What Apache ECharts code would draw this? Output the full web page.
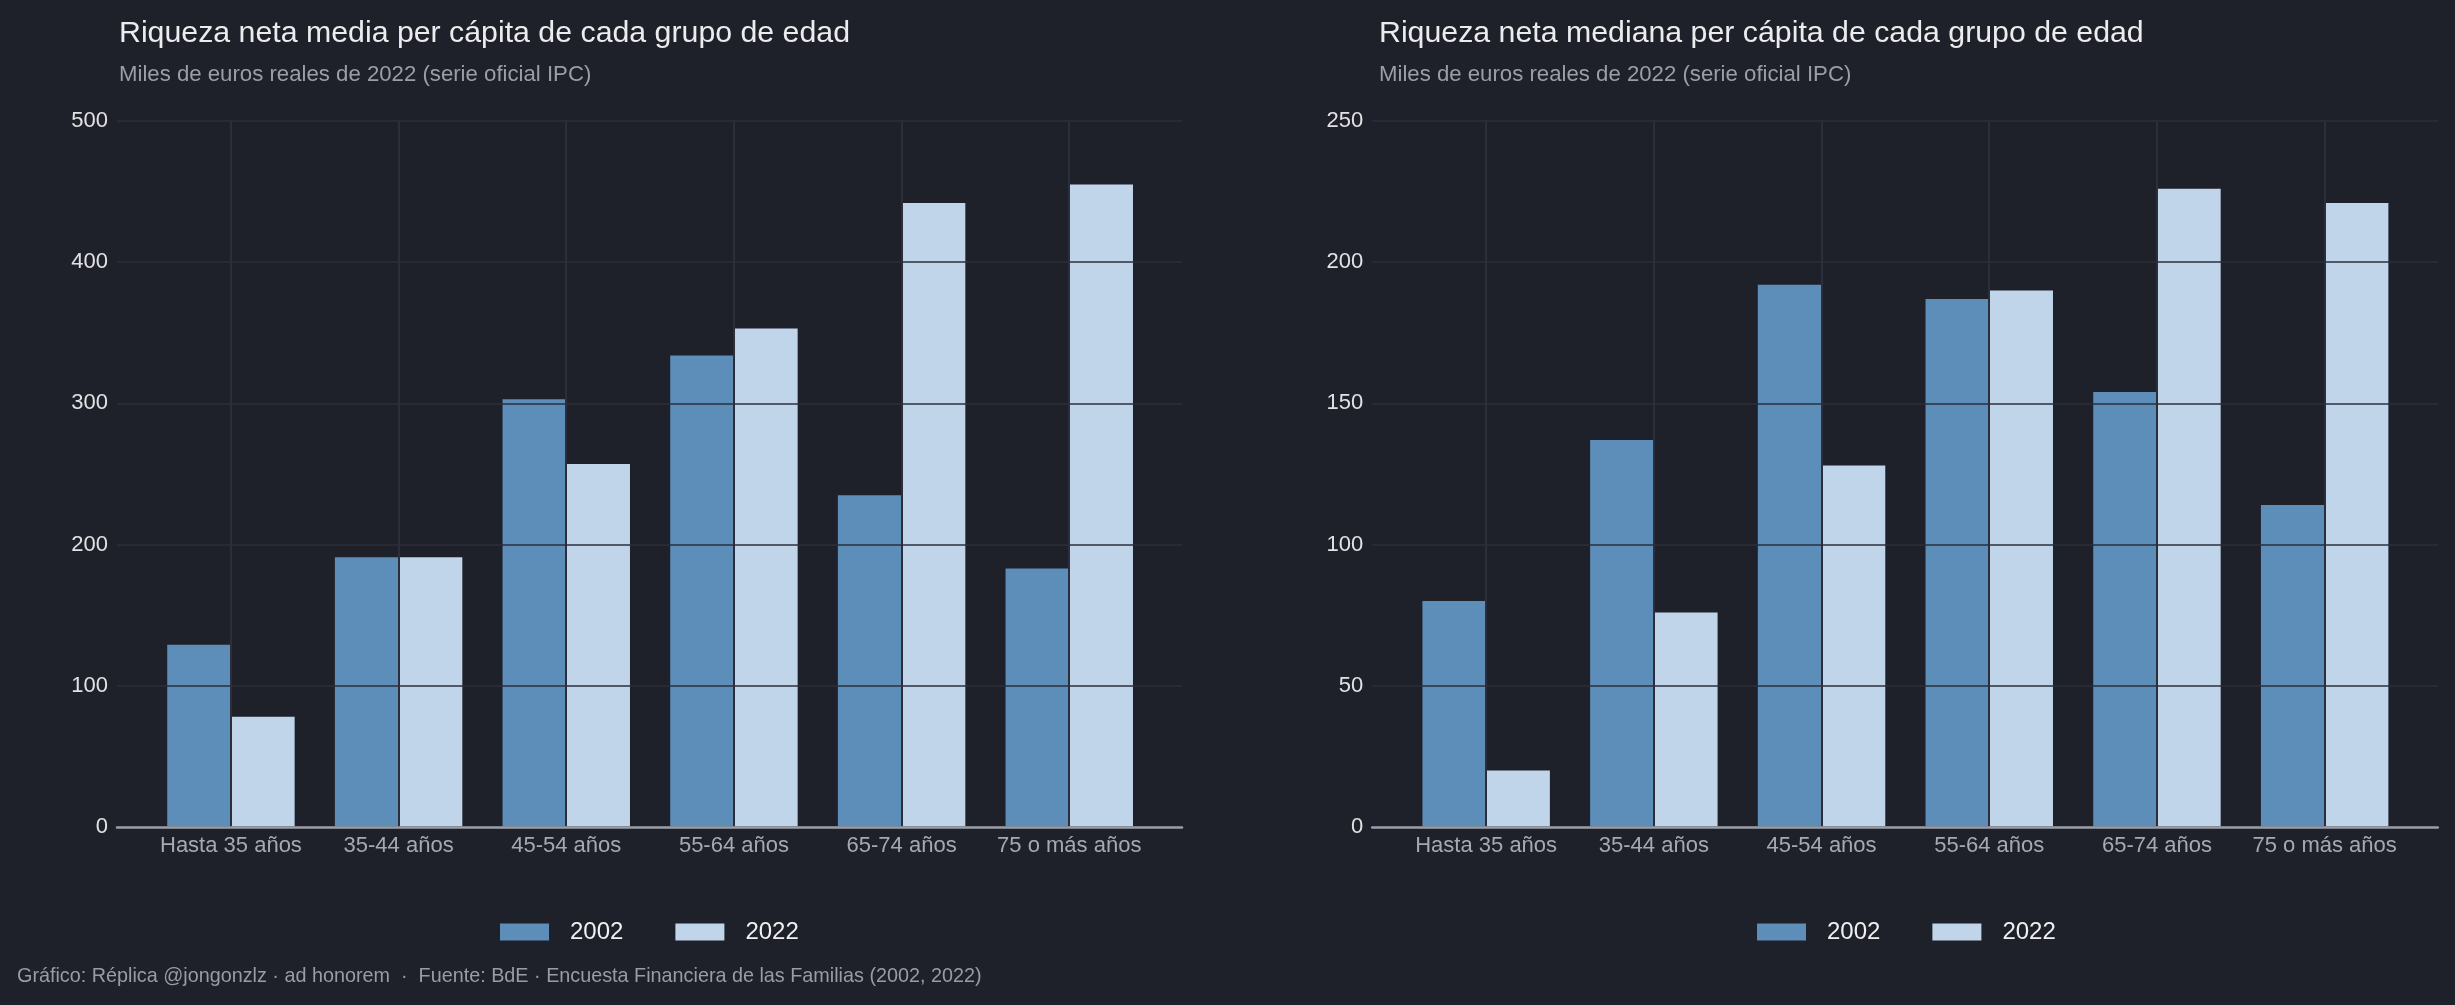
<!DOCTYPE html>
<html>
<head>
<meta charset="utf-8">
<script src="https://cdn.jsdelivr.net/npm/echarts@6/dist/echarts.min.js"></script>
<style>
html,body{margin:0;padding:0;background:#1f212a;}
#chart{width:2455px;height:1005px;}
</style>
</head>
<body>
<div id="chart"></div>
<script>
var categories = ['Hasta 35 años', '35-44 años', '45-54 años', '55-64 años', '65-74 años', '75 o más años'];
var seriesNames = ['2002', '2022'];
var media2002 = [129, 191, 303, 334, 235, 183];
var media2022 = [78, 191, 257, 353, 442, 455];
var mediana2002 = [80, 137, 192, 187, 154, 114];
var mediana2022 = [20, 76, 128, 190, 226, 221];
var mediaTicks = {min: 0, max: 500, interval: 100};
var medianaTicks = {min: 0, max: 250, interval: 50};
var titles = ['Riqueza neta media per cápita de cada grupo de edad', 'Riqueza neta mediana per cápita de cada grupo de edad'];
var subtitle = 'Miles de euros reales de 2022 (serie oficial IPC)';
var footer = 'Gráfico: Réplica @jongonzlz · ad honorem  ·  Fuente: BdE · Encuesta Financiera de las Familias (2002, 2022)';

var FONT = '"Liberation Sans", Arial, Helvetica, sans-serif';
var BG = '#1f212a';
var GRIDLINE = '#2c2e3b';
var C2002 = '#5d8eba';
var C2022 = '#c0d5ea';

var chart = echarts.init(document.getElementById('chart'), null, {renderer: 'canvas'});

var TOP = 121, H = 706;
var panels = [
  {a: [117, 1065], b: [147.1, 1006], c: [230.9, 838.3], ticks: mediaTicks, d1: media2002, d2: media2022},
  {a: [1372.2, 1065.6], b: [1402.3, 1006.2], c: [1486.1, 838.5], ticks: medianaTicks, d1: mediana2002, d2: mediana2022}
];

var grid = [], xAxis = [], yAxis = [], series = [];
panels.forEach(function (p, k) {
  var base = k * 3;
  [p.a, p.b, p.c].forEach(function (g) {
    grid.push({left: g[0], width: g[1], top: TOP, height: H, containLabel: false, outerBoundsMode: 'none'});
  });
  xAxis.push({type: 'value', gridIndex: base, min: 0, max: 1, z: 4,
    axisLine: {show: true, onZero: false, lineStyle: {color: '#9b9ea6', width: 2.5}},
    axisTick: {show: false}, axisLabel: {show: false}, splitLine: {show: false}});
  yAxis.push({type: 'value', gridIndex: base, min: p.ticks.min, max: p.ticks.max, interval: p.ticks.interval, z: 4,
    axisLine: {show: false}, axisTick: {show: false},
    axisLabel: {color: '#e2e2e4', fontSize: 22, fontFamily: FONT, margin: 9, padding: [4, 0, 0, 0]},
    splitLine: {show: true, lineStyle: {color: GRIDLINE, width: 1.5}}});
  xAxis.push({type: 'category', gridIndex: base + 1, data: categories, z: 1,
    axisLine: {show: false}, axisTick: {show: false},
    axisLabel: {interval: 0, color: '#a7a9b0', fontSize: 22, fontFamily: FONT, margin: 8},
    splitLine: {show: false}});
  yAxis.push({type: 'value', gridIndex: base + 1, min: p.ticks.min, max: p.ticks.max, show: false, splitLine: {show: false}});
  xAxis.push({type: 'value', gridIndex: base + 2, min: 0, max: categories.length - 1, interval: 1, z: 4,
    axisLine: {show: false}, axisTick: {show: false}, axisLabel: {show: false},
    splitLine: {show: true, showMinLine: true, showMaxLine: true, lineStyle: {color: GRIDLINE, width: 2}}});
  yAxis.push({type: 'value', gridIndex: base + 2, min: 0, max: 1, show: false, splitLine: {show: false}});

  series.push({name: seriesNames[0], type: 'bar', xAxisIndex: base + 1, yAxisIndex: base + 1, data: p.d1,
    barGap: '0%', barCategoryGap: '24%', itemStyle: {color: C2002}, z: 2, emphasis: {disabled: true}});
  series.push({name: seriesNames[1], type: 'bar', xAxisIndex: base + 1, yAxisIndex: base + 1, data: p.d2,
    barGap: '0%', barCategoryGap: '24%', itemStyle: {color: C2022}, z: 2, emphasis: {disabled: true}});
});

var legendCommon = {
  orient: 'horizontal', top: 920, padding: 0, itemWidth: 49, itemHeight: 17, itemGap: 52, icon: 'rect',
  data: seriesNames, selectedMode: false,
  textStyle: {color: '#f0f0f2', fontSize: 24, fontFamily: FONT, padding: [0, 0, 0, 16]}
};

var option = {
  backgroundColor: BG,
  animation: false,
  textStyle: {fontFamily: FONT},
  title: [
    {text: titles[0], left: 119, top: 19, padding: 0, textStyle: {color: '#ececee', fontSize: 30.3, fontWeight: 'normal', fontFamily: FONT}},
    {text: subtitle, left: 119, top: 64, padding: 0, textStyle: {color: '#9c9ea6', fontSize: 22.2, fontWeight: 'normal', fontFamily: FONT}},
    {text: titles[1], left: 1379, top: 19, padding: 0, textStyle: {color: '#ececee', fontSize: 30.3, fontWeight: 'normal', fontFamily: FONT}},
    {text: subtitle, left: 1379, top: 64, padding: 0, textStyle: {color: '#9c9ea6', fontSize: 22.2, fontWeight: 'normal', fontFamily: FONT}},
    {text: footer, left: 17, top: 967, padding: 0, textStyle: {color: '#9a9ca5', fontSize: 19.8, fontWeight: 'normal', fontFamily: FONT}}
  ],
  legend: [
    Object.assign({}, legendCommon, {left: 500}),
    Object.assign({}, legendCommon, {left: 1757})
  ],
  grid: grid,
  xAxis: xAxis,
  yAxis: yAxis,
  series: series
};
chart.setOption(option);
</script>
</body>
</html>
